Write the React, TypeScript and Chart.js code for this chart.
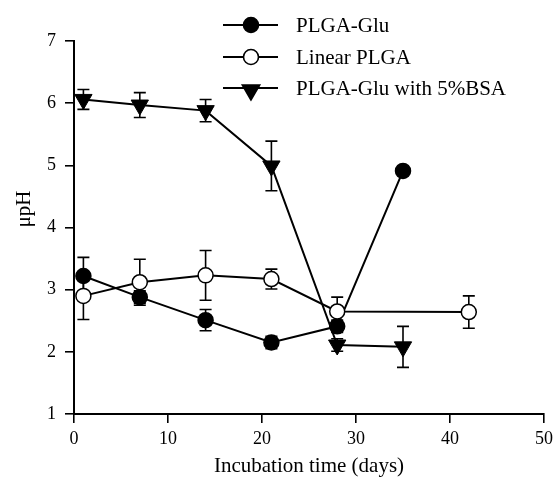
import React, { useEffect, useRef } from "react";
import { Chart, registerables } from "chart.js";

Chart.register(...registerables);

const seriesNames = ["PLGA-Glu", "Linear PLGA", "PLGA-Glu with 5%BSA"];

const glDays = [1, 7, 14, 21, 28, 35];
const glValues = [3.22, 2.88, 2.51, 2.15, 2.41, 4.91];
const glErrors = [0.3, 0.1, 0.17, 0.1, 0.1, 0];

const linDays = [1, 7, 14, 21, 28, 42];
const linValues = [2.9, 3.12, 3.23, 3.17, 2.65, 2.64];
const linErrors = [0.38, 0.37, 0.4, 0.16, 0.23, 0.26];

const bsaDays = [1, 7, 14, 21, 28, 35];
const bsaValues = [6.06, 5.97, 5.88, 4.99, 2.11, 2.08];
const bsaErrors = [0.16, 0.2, 0.18, 0.4, 0.1, 0.33];

const xTicks = [0, 10, 20, 30, 40, 50];
const yTicks = [1, 2, 3, 4, 5, 6, 7];

const FONT = "'Liberation Serif', 'Times New Roman', serif";

const toPoints = (xs: number[], ys: number[]) => xs.map((x, i) => ({ x, y: ys[i] }));

const errorBarPlugin = {
  id: "errorBars",
  beforeDatasetsDraw(chart: any) {
    const ctx = chart.ctx;
    const xs = chart.scales.x;
    const ys = chart.scales.y;
    ctx.save();
    ctx.strokeStyle = "#000";
    ctx.lineWidth = 1.6;
    chart.data.datasets.forEach((ds: any) => {
      const errs: number[] = ds.errors || [];
      ds.data.forEach((p: any, i: number) => {
        const e = errs[i];
        if (!e) return;
        const px = xs.getPixelForValue(p.x);
        const top = ys.getPixelForValue(p.y + e);
        const bot = ys.getPixelForValue(p.y - e);
        ctx.beginPath();
        ctx.moveTo(px, top);
        ctx.lineTo(px, bot);
        ctx.moveTo(px - 6, top);
        ctx.lineTo(px + 6, top);
        ctx.moveTo(px - 6, bot);
        ctx.lineTo(px + 6, bot);
        ctx.stroke();
      });
    });
    ctx.restore();
  },
};

const legendPlugin = {
  id: "customLegend",
  afterDraw(chart: any) {
    const ctx = chart.ctx;
    const rows = [25, 57, 88];
    ctx.save();
    seriesNames.forEach((name, r) => {
      const ds = chart.data.datasets.find((d: any) => d.label === name);
      const y = rows[r];
      ctx.strokeStyle = "#000";
      ctx.lineWidth = 2;
      ctx.beginPath();
      ctx.moveTo(223, y);
      ctx.lineTo(278, y);
      ctx.stroke();
      ctx.fillStyle = ds.pointBackgroundColor;
      ctx.lineWidth = 1.6;
      ctx.beginPath();
      if (ds.pointStyle === "triangle") {
        const rad = ds.pointRadius;
        const cy = y + 2;
        ctx.moveTo(251, cy + rad);
        ctx.lineTo(251 - rad * 0.866, cy - rad * 0.5);
        ctx.lineTo(251 + rad * 0.866, cy - rad * 0.5);
        ctx.closePath();
      } else {
        ctx.arc(251, y, ds.pointRadius, 0, Math.PI * 2);
      }
      ctx.fill();
      ctx.stroke();
      ctx.fillStyle = "#000";
      ctx.font = `21px ${FONT}`;
      ctx.textBaseline = "middle";
      ctx.textAlign = "left";
      ctx.fillText(name, 296, y + 1);
    });
    ctx.restore();
  },
};

export default function App() {
  const ref = useRef<HTMLCanvasElement | null>(null);

  useEffect(() => {
    if (!ref.current) return;
    const chart = new Chart(ref.current, {
      type: "line",
      data: {
        datasets: [
          {
            label: seriesNames[0],
            data: toPoints(glDays, glValues),
            errors: glErrors,
            borderColor: "#000",
            borderWidth: 2,
            pointStyle: "circle",
            pointRadius: 7.5,
            pointBackgroundColor: "#000",
            pointBorderColor: "#000",
            pointBorderWidth: 1.5,
            order: 1,
          } as any,
          {
            label: seriesNames[1],
            data: toPoints(linDays, linValues),
            errors: linErrors,
            borderColor: "#000",
            borderWidth: 2,
            pointStyle: "circle",
            pointRadius: 7.5,
            pointBackgroundColor: "#fff",
            pointBorderColor: "#000",
            pointBorderWidth: 1.5,
            order: 0,
          } as any,
          {
            label: seriesNames[2],
            data: toPoints(bsaDays, bsaValues),
            errors: bsaErrors,
            borderColor: "#000",
            borderWidth: 2,
            pointStyle: "triangle",
            pointRotation: 180,
            pointRadius: 10,
            pointBackgroundColor: "#000",
            pointBorderColor: "#000",
            pointBorderWidth: 1,
            order: 2,
          } as any,
        ],
      },
      options: {
        animation: false,
        responsive: false,
        maintainAspectRatio: false,
        layout: { padding: { top: 41, right: -3, left: 0, bottom: 0 } },
        plugins: {
          legend: { display: false },
          tooltip: { enabled: false },
        },
        elements: { line: { tension: 0 } },
        scales: {
          x: {
            type: "linear",
            min: 0,
            max: 50,
            afterBuildTicks: (s: any) => {
              s.ticks = xTicks.map((v) => ({ value: v }));
            },
            afterFit: (s: any) => {
              s.height = 63;
              s.paddingLeft = 0;
              s.paddingRight = 0;
            },
            grid: {
              drawOnChartArea: false,
              drawTicks: true,
              tickLength: 9,
              color: "#000",
              lineWidth: 1.6,
            },
            border: { display: true, color: "#000", width: 2 },
            ticks: {
              color: "#000",
              font: { family: FONT, size: 18 },
              padding: 5,
              maxRotation: 0,
            },
            title: {
              display: true,
              text: "Incubation time (days)",
              color: "#000",
              font: { family: FONT, size: 21, lineHeight: 1 },
              padding: { top: 0, bottom: 0 },
            },
          },
          y: {
            type: "linear",
            min: 1,
            max: 7,
            afterBuildTicks: (s: any) => {
              s.ticks = yTicks.map((v) => ({ value: v }));
            },
            afterFit: (s: any) => {
              s.width = 74;
              s.paddingTop = 0;
              s.paddingBottom = 0;
            },
            grid: {
              drawOnChartArea: false,
              drawTicks: true,
              tickLength: 9,
              color: "#000",
              lineWidth: 1.6,
            },
            border: { display: true, color: "#000", width: 2 },
            ticks: {
              color: "#000",
              font: { family: FONT, size: 18 },
              padding: 9,
            },
            title: {
              display: true,
              text: "       μpH",
              color: "#000",
              font: { family: FONT, size: 21, lineHeight: 1 },
              padding: { top: 14, bottom: 14 },
            },
          },
        },
      } as any,
      plugins: [errorBarPlugin, legendPlugin],
    });
    return () => chart.destroy();
  }, []);

  return (
    <div style={{ position: "absolute", left: 0, top: 0, width: 555, height: 477, background: "#fff" }}>
      <canvas ref={ref} width={555} height={477} style={{ width: 555, height: 477 }} />
    </div>
  );
}
